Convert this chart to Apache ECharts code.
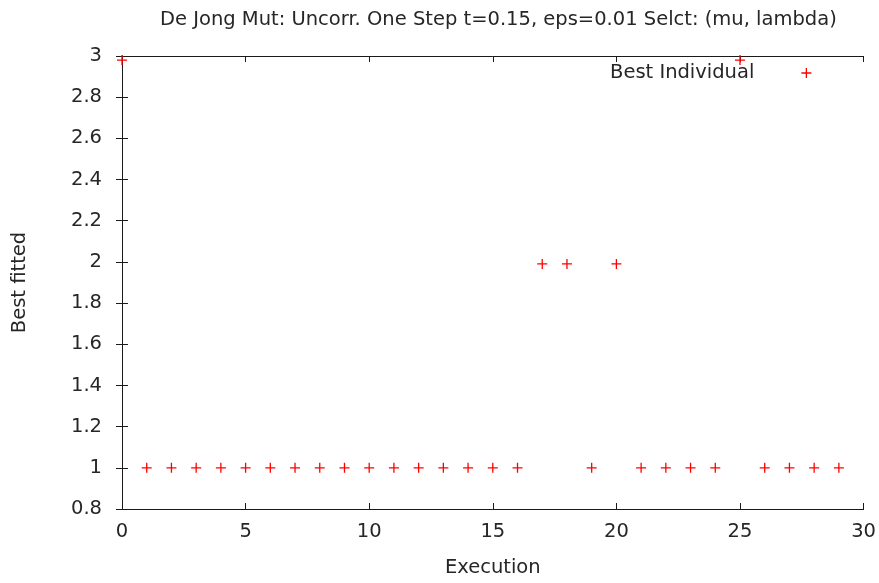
<!DOCTYPE html>
<html>
<head>
<meta charset="utf-8">
<script src="https://cdn.jsdelivr.net/npm/echarts@6/dist/echarts.min.js"></script>
<style>
  html, body { margin: 0; padding: 0; background: #fff; }
  #chart { width: 879px; height: 583px; }
</style>
</head>
<body>
<div id="chart"></div>
<script>
// Best fitness found in each execution
const executions = [0, 1, 2, 3, 4, 5, 6, 7, 8, 9, 10, 11, 12, 13, 14, 15, 16, 17, 18, 19, 20, 21, 22, 23, 24, 25, 26, 27, 28, 29];
const bestFitted = [2.98, 1, 1, 1, 1, 1, 1, 1, 1, 1, 1, 1, 1, 1, 1, 1, 1, 1.99, 1.99, 1, 1.99, 1, 1, 1, 1, 2.98, 1, 1, 1, 1];
const seriesName = 'Best Individual';
const titleText = 'De Jong Mut: Uncorr. One Step t=0.15, eps=0.01 Selct: (mu, lambda)';

const FONT = 'DejaVu Sans';
const FS = 19.5;
const TEXT = '#262626';
const AXIS = '#1a1a1a';
const plus = 'path://M0,5L10,5M5,0L5,10';

const xBase = {
  type: 'value', min: 0, max: 30, interval: 5,
  axisLine: { show: true, lineStyle: { color: AXIS, width: 1 } },
  axisTick: { show: true, inside: true, length: 6, lineStyle: { color: AXIS } },
  splitLine: { show: false }
};
const yBase = {
  type: 'value', min: 0.8, max: 3, interval: 0.2,
  axisLine: { show: true, lineStyle: { color: AXIS, width: 1 } },
  axisTick: { show: true, inside: true, length: 6, lineStyle: { color: AXIS } },
  splitLine: { show: false }
};

const chart = echarts.init(document.getElementById('chart'), null, { renderer: 'canvas' });
chart.setOption({
  backgroundColor: '#fff',
  animation: false,
  title: {
    text: titleText,
    left: 155, top: 5,
    textStyle: { fontFamily: FONT, fontSize: FS, fontWeight: 'normal', color: TEXT }
  },
  legend: {
    data: [seriesName],
    right: 62, top: 58,
    align: 'right',
    icon: plus,
    itemWidth: 10, itemHeight: 10,
    itemStyle: { color: 'transparent', borderColor: '#ff0000', borderWidth: 1.3 },
    formatter: n => '{a|' + n + '}',
    textStyle: {
      fontFamily: FONT, fontSize: FS, color: TEXT,
      rich: { a: { fontFamily: FONT, fontSize: FS, color: TEXT, padding: [0, 42, 0, 0] } }
    }
  },
  grid: { left: 122, right: 12, top: 56, bottom: 70, containLabel: false },
  xAxis: [
    Object.assign({}, xBase, {
      position: 'bottom',
      name: 'Execution', nameLocation: 'middle', nameGap: 49,
      nameTextStyle: { fontFamily: FONT, fontSize: FS, color: TEXT },
      axisLabel: { fontFamily: FONT, fontSize: FS, color: TEXT, margin: 13 }
    }),
    Object.assign({}, xBase, { position: 'top', axisLabel: { show: false } })
  ],
  yAxis: [
    Object.assign({}, yBase, {
      position: 'left',
      name: 'Best fitted', nameLocation: 'middle', nameGap: 92, nameRotate: 90,
      nameTextStyle: { fontFamily: FONT, fontSize: FS, color: TEXT },
      axisLabel: { fontFamily: FONT, fontSize: FS, color: TEXT, margin: 20 }
    }),
    Object.assign({}, yBase, { position: 'right', axisLabel: { show: false } })
  ],
  series: [{
    name: seriesName,
    type: 'scatter',
    xAxisIndex: 0, yAxisIndex: 0,
    symbol: plus,
    symbolSize: 10,
    itemStyle: { color: 'transparent', borderColor: '#ff0000', borderWidth: 1.3, opacity: 1 },
    emphasis: { disabled: true },
    data: executions.map((x, i) => [x, bestFitted[i]])
  }]
});
</script>
</body>
</html>
